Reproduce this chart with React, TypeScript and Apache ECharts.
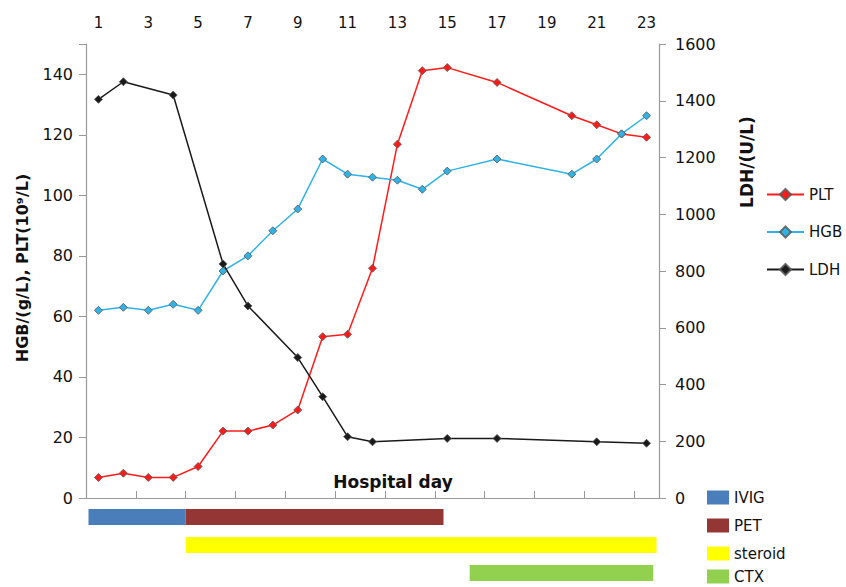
import React, { useEffect, useRef } from "react";
import * as echarts from "echarts";

const days = ["1","2","3","4","5","6","7","8","9","10","11","12","13","14","15","16","17","18","19","20","21","22","23"];

// values per day (null = not measured)
const plt = [6.8, 8.2, 6.8, 6.8, 10.4, 22.1, 22.1, 24.1, 29.1, 53.3, 54.1, 75.9, 116.9, 141.2, 142.2, null, 137.3, null, null, 126.3, 123.3, 120.3, 119.2];
const hgb = [62, 63, 62, 64, 62, 75, 80, 88.3, 95.5, 112, 107, 106, 105, 102, 108, null, 112, null, null, 107, 112, 120.3, 126.3];
const ldh = [1405, 1467, null, 1420, null, 825, 677, null, 495, 357, 216, 198, null, null, 210, null, 210, null, null, null, 198, null, 193];

const leftTicks = [0, 150, 20];
const rightTicks = [0, 1600, 200];

// treatments: [startDay, endDay, row]
const ivig = [[0.6, 4.5, 0]];
const pet = [[4.5, 14.85, 0]];
const steroid = [[4.5, 23.4, 1]];
const ctx = [[15.9, 23.27, 2]];
const rows = ["r1", "r2", "r3"];

const FONT = "DejaVu Sans, sans-serif";

function renderBar(params: any, api: any) {
  const s = api.value(0);
  const e = api.value(1);
  const r = api.value(2);
  const p1 = api.coord([s, r]);
  const p2 = api.coord([e, r]);
  const h = 16;
  return {
    type: "rect",
    shape: { x: p1[0], y: p1[1] - h / 2, width: p2[0] - p1[0], height: h },
    style: { fill: api.visual("color") },
  };
}

export default function App() {
  const ref = useRef<HTMLDivElement>(null);
  useEffect(() => {
    const chart = echarts.init(ref.current!, null, { renderer: "svg" });
    const axisLine = { show: true, lineStyle: { color: "#999", width: 1.2 } };
    const marker = (color: string, name: string, data: any[], yIdx: number) => ({
      name,
      type: "line",
      xAxisIndex: 0,
      yAxisIndex: yIdx,
      data,
      connectNulls: true,
      symbol: "diamond",
      symbolSize: 8,
      lineStyle: { color, width: 1.5 },
      itemStyle: { color, borderColor: "rgba(90,90,90,0.85)", borderWidth: 1 },
    });
    const bar = (name: string, color: string, data: any[]) => ({
      name,
      type: "custom",
      xAxisIndex: 1,
      yAxisIndex: 2,
      renderItem: renderBar,
      encode: { x: [0, 1], y: 2 },
      itemStyle: { color },
      data,
    });
    const barLegend = (names: string[], top: number) => ({
      data: names,
      orient: "vertical",
      left: 707,
      top,
      padding: 0,
      icon: "rect",
      itemWidth: 22,
      itemHeight: 14,
      itemGap: 13,
      textStyle: { fontSize: 15, color: "#111", fontFamily: FONT },
    });
    chart.setOption({
      animation: false,
      backgroundColor: "#fff",
      textStyle: { fontFamily: FONT },
      grid: [
        { left: 86, right: 187, top: 44, bottom: 89 },
        { left: 86, right: 187, top: 503, height: 88 },
      ],
      xAxis: [
        {
          type: "category",
          gridIndex: 0,
          position: "top",
          data: days,
          boundaryGap: true,
          axisLine,
          axisTick: { show: true, interval: 1, length: 7, lineStyle: { color: "#999" } },
          axisLabel: { interval: 1, margin: 14, color: "#111", fontSize: 15, fontFamily: FONT },
          splitLine: { show: false },
        },
        { type: "value", gridIndex: 1, min: 0.5, max: 23.5, show: false },
      ],
      yAxis: [
        {
          type: "value",
          gridIndex: 0,
          min: leftTicks[0],
          max: leftTicks[1],
          interval: leftTicks[2],
          axisLine,
          axisTick: { show: true, length: 7, lineStyle: { color: "#999" } },
          axisLabel: {
            margin: 13,
            color: "#111",
            fontSize: 16,
            fontFamily: FONT,
            formatter: (v: number) => (v > 140 ? "" : String(v)),
          },
          splitLine: { show: false },
        },
        {
          type: "value",
          gridIndex: 0,
          position: "right",
          min: rightTicks[0],
          max: rightTicks[1],
          interval: rightTicks[2],
          axisLine,
          axisTick: { show: true, length: 7, lineStyle: { color: "#999" } },
          axisLabel: {
            margin: 16,
            color: "#111",
            fontSize: 16,
            fontFamily: FONT,
            formatter: (v: number) => String(v),
          },
          splitLine: { show: false },
        },
        { type: "category", gridIndex: 1, data: rows, inverse: true, show: false },
      ],
      legend: [
        {
          data: ["PLT", "HGB", "LDH"],
          orient: "vertical",
          left: 766,
          top: 187,
          padding: 0,
          itemWidth: 37,
          itemHeight: 14,
          itemGap: 22.5,
          textStyle: { fontSize: 15, color: "#111", fontFamily: FONT },
        },
        barLegend(["IVIG", "PET", "steroid"], 490),
        barLegend(["CTX"], 569),
      ],
      graphic: [
        {
          type: "text",
          x: 22,
          y: 268,
          rotation: Math.PI / 2,
          style: {
            text: "HGB/(g/L), PLT(10⁹/L)",
            font: `bold 16px ${FONT}`,
            fill: "#111",
            textAlign: "center",
            textVerticalAlign: "middle",
          },
        },
        {
          type: "text",
          x: 747,
          y: 162,
          rotation: Math.PI / 2,
          style: {
            text: "LDH/(U/L)",
            font: `bold 17px ${FONT}`,
            fill: "#111",
            textAlign: "center",
            textVerticalAlign: "middle",
          },
        },
        {
          type: "text",
          x: 393,
          y: 482,
          style: {
            text: "Hospital day",
            font: `bold 17px ${FONT}`,
            fill: "#111",
            textAlign: "center",
            textVerticalAlign: "middle",
          },
        },
      ],
      series: [
        marker("#ff1a1a", "PLT", plt, 0),
        marker("#2fb3e6", "HGB", hgb, 0),
        marker("#1a1a1a", "LDH", ldh, 1),
        bar("IVIG", "#4a7ebb", ivig),
        bar("PET", "#943634", pet),
        bar("steroid", "#ffff00", steroid),
        bar("CTX", "#92d050", ctx),
      ],
    });
    return () => chart.dispose();
  }, []);
  return (
    <div
      ref={ref}
      style={{ position: "fixed", left: 0, top: 0, width: 846, height: 587, background: "#fff" }}
    />
  );
}
